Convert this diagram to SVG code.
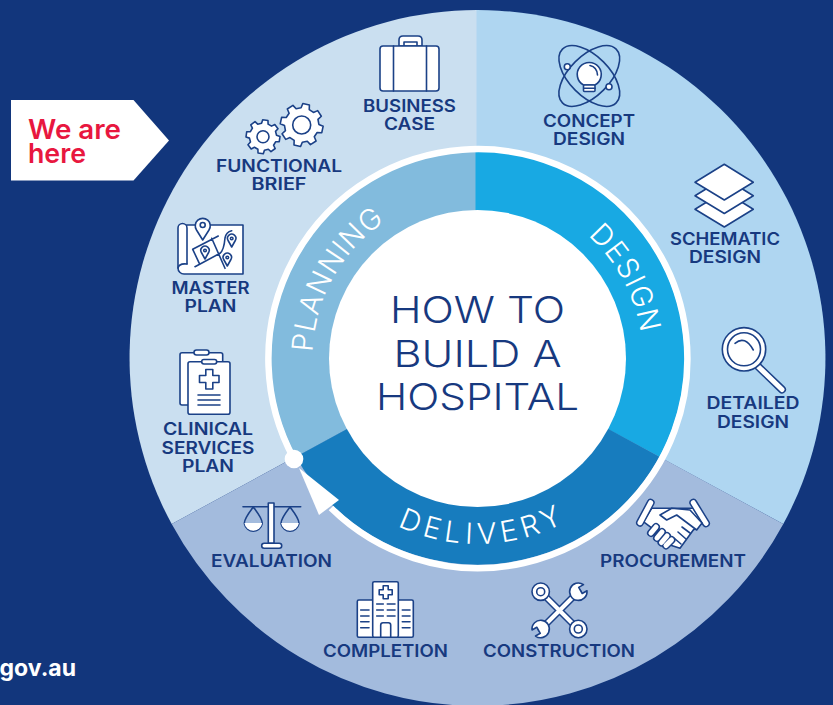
<svg xmlns="http://www.w3.org/2000/svg" width="833" height="705" viewBox="0 0 833 705">
<style>
.l{font-family:"Inter","Liberation Sans",sans-serif;font-weight:600;font-size:17px;fill:#17397f;text-anchor:middle}
.c{font-family:"Inter","Liberation Sans",sans-serif;font-weight:300;font-size:37px;fill:#17397f;text-anchor:middle}
.r{font-family:"Inter","Liberation Sans",sans-serif;font-weight:300;font-size:29px;fill:#fff}
.h{font-family:"Inter","Liberation Sans",sans-serif;font-weight:600;font-size:27px;fill:#e8173f}
.i{fill:#fff;stroke:#1b4187;stroke-width:1.6;stroke-linejoin:round;stroke-linecap:round}
.n{fill:none;stroke:#1b4187;stroke-width:1.6;stroke-linejoin:round;stroke-linecap:round}
.o{fill:none;stroke:#1b4187;stroke-linecap:round}
.w{fill:none;stroke:#fff;stroke-linecap:round}
</style>
<defs>
<path id="gear" vector-effect="non-scaling-stroke" d="M77.6 -19.4L98.8 -15.6L98.8 15.6L77.6 19.4L68.6 41.2L80.9 58.8L58.8 80.9L41.2 68.6L19.4 77.6L15.6 98.8L-15.6 98.8L-19.4 77.6L-41.2 68.6L-58.8 80.9L-80.9 58.8L-68.6 41.2L-77.6 19.4L-98.8 15.6L-98.8 -15.6L-77.6 -19.4L-68.6 -41.2L-80.9 -58.8L-58.8 -80.9L-41.2 -68.6L-19.4 -77.6L-15.6 -98.8L15.6 -98.8L19.4 -77.6L41.2 -68.6L58.8 -80.9L80.9 -58.8L68.6 -41.2Z"/>
<g id="pin"><path d="M0 6L-3.6 -0.5A4.200 4.200 0 1 1 3.600 -0.5Z"/><circle cy="-2.500" r="1.300"/></g>
<path id="open" d="M8 -3.500L2.500 -3.500L2.500 3.500L8 3.500A8.700 8.700 0 1 1 8 -3.500Z"/>
<path id="rhomb" d="M695 182.300L724.300 164.300L753.300 182.300L724.300 200Z"/>
<path id="pan" d="M0 0Q-10 13 -8.800 17A9 9 0 0 0 8.800 17Q10 13 0 0Z"/>
<path id="bowl" d="M-8.900 16H8.900A9 9 0 0 1 -8.900 16Z"/>
<path id="tp" d="M312.600 352.200A165 165 0 0 1 477.500 193"/>
<path id="td" d="M587.900 235.400A165 165 0 0 1 642.500 358"/>
<path id="tv" d="M397.400 525.900A186 186 0 0 0 638.600 451"/>
</defs>
<rect width="833" height="705" fill="#12367c"/>
<g id="wheel">
<path d="M477 358L477 10A348 348 0 0 0 171.700 524Z" fill="#cadff0"/>
<path d="M476.500 358L476.500 10A348 348 0 0 1 783.300 524Z" fill="#afd6f1"/>
<path d="M477.500 358L783.300 524A348 348 0 0 1 171.700 524Z" fill="#a3bbdd"/>
</g>
<g id="ring">
<path d="M477.500 358L477.500 151A207 207 0 0 0 296 456.800Z" fill="#82bbdd"/>
<path d="M475.500 358L475.500 151A207 207 0 0 1 659.500 456.800Z" fill="#18a9e3"/>
<path d="M477.500 358L659.500 456.800A207 207 0 0 1 296 456.800Z" fill="#177cbe"/>
<circle cx="477.500" cy="358.500" r="148.500" fill="#fff"/>
</g>
<g id="connectors">
<path d="M294 459A209.500 209.500 0 1 1 331 508" fill="none" stroke="#fff" stroke-width="6.500"/>
<circle cx="294" cy="459" r="9.300" fill="#fff"/>
<path d="M299 468L319 515L339 500Z" fill="#fff"/>
</g>
<g id="center-title">
<text class="c" x="477.500" y="323" textLength="175" lengthAdjust="spacingAndGlyphs">HOW TO</text>
<text class="c" x="477.500" y="367" textLength="168" lengthAdjust="spacingAndGlyphs">BUILD A</text>
<text class="c" x="477.500" y="409.500" textLength="203" lengthAdjust="spacingAndGlyphs">HOSPITAL</text>
</g>
<g id="phase-planning"><text class="r"><textPath href="#tp" textLength="155">PLANNING</textPath></text></g>
<g id="phase-design"><text class="r"><textPath href="#td" textLength="113">DESIGN</textPath></text></g>
<g id="phase-delivery"><text class="r"><textPath href="#tv" textLength="172">DELIVERY</textPath></text></g>
<g id="here">
<path d="M11 100H133.500L169 140.500L133.500 180.500H11Z" fill="#fff"/>
<text class="h" x="28" y="138.500" textLength="93" lengthAdjust="spacingAndGlyphs">We are</text>
<text class="h" x="28" y="163" textLength="58" lengthAdjust="spacingAndGlyphs">here</text>
</g>
<g id="url"><text x="76" y="676" text-anchor="end" font-family="Inter,'Liberation Sans',sans-serif" font-weight="700" font-size="23" fill="#fff">gov.au</text></g>
<g id="business-case">
<path class="i" d="M399 46V40Q399 36 403 36H418Q422 36 422 40V46Z"/>
<path class="n" d="M404 46V42H417V46"/>
<rect class="i" x="380" y="46" width="59" height="45" rx="3"/>
<path class="n" d="M393.500 46V91M426.500 46V91"/>
<text class="l" x="409.500" y="112" textLength="93" lengthAdjust="spacingAndGlyphs">BUSINESS</text>
<text class="l" x="409.500" y="130" textLength="51" lengthAdjust="spacingAndGlyphs">CASE</text>
</g>
<g id="functional-brief">
<use href="#gear" class="i" transform="translate(263 136.700) rotate(8) scale(.17)"/>
<circle class="i" cx="263" cy="136.700" r="6"/>
<use href="#gear" class="i" transform="translate(301.700 125) rotate(12) scale(.215)"/>
<circle class="i" cx="301.700" cy="125" r="9"/>
<text class="l" x="279" y="172" textLength="126" lengthAdjust="spacingAndGlyphs">FUNCTIONAL</text>
<text class="l" x="279" y="190" textLength="55" lengthAdjust="spacingAndGlyphs">BRIEF</text>
</g>
<g id="master-plan">
<path class="i" d="M186 225H243V274H184A6 6 0 0 1 178 268V228A4.500 4.500 0 0 1 187 228V264"/>
<path class="n" d="M187 264Q179 263 178 268"/>
<path class="n" d="M192.700 249.300L218.300 236M195 266.700L220 253.300Q224 250 225 238Q226 232 231.700 230.700M192.700 249.300L199.300 263.300M211.700 238.300L225 268.300"/>
<path class="i" d="M202.700 240L196.500 230A7.500 7.500 0 1 1 209 230Z"/>
<circle class="n" cx="202.700" cy="225" r="2.500"/>
<use href="#pin" class="i" x="205" y="253"/><use href="#pin" class="i" x="231.700" y="241"/><use href="#pin" class="i" x="227.300" y="260"/>
<text class="l" x="210.500" y="294" textLength="78" lengthAdjust="spacingAndGlyphs">MASTER</text>
<text class="l" x="210.500" y="312" textLength="52" lengthAdjust="spacingAndGlyphs">PLAN</text>
</g>
<g id="clinical-services-plan">
<rect class="i" x="180" y="352.700" width="42.700" height="52.300" rx="2"/>
<rect class="i" x="194" y="350" width="15" height="5" rx="2.500"/>
<rect class="i" x="188" y="361.700" width="42" height="52.600" rx="2"/>
<rect class="i" x="201.700" y="359.500" width="15" height="4.500" rx="2.200"/>
<path class="n" d="M205.800 369.500H212.800V375.500H219V382.500H212.800V389H205.800V382.500H199.500V375.500H205.800Z"/>
<path class="n" d="M198 395H220M198 400H220M198 405H220"/>
<text class="l" x="208" y="435" textLength="90" lengthAdjust="spacingAndGlyphs">CLINICAL</text>
<text class="l" x="208" y="453.500" textLength="93" lengthAdjust="spacingAndGlyphs">SERVICES</text>
<text class="l" x="208" y="472" textLength="52" lengthAdjust="spacingAndGlyphs">PLAN</text>
</g>
<g id="concept-design">
<ellipse class="n" cx="589.300" cy="76" rx="38" ry="20" transform="rotate(45 589.300 76)"/>
<ellipse class="n" cx="589.300" cy="76" rx="38" ry="20" transform="rotate(-45 589.300 76)"/>
<circle class="i" cx="567.300" cy="66.700" r="3"/><circle class="i" cx="609" cy="86.700" r="3"/>
<path class="i" d="M583.500 85A12 12 0 1 1 595 85Z"/>
<rect class="i" x="583.500" y="85" width="11.500" height="6.500" rx="1"/>
<path class="n" d="M584 88.200H595"/>
<path class="n" d="M590 65.500Q597 67 597.500 75"/>
<text class="l" x="589" y="127" textLength="92" lengthAdjust="spacingAndGlyphs">CONCEPT</text>
<text class="l" x="589" y="144.500" textLength="72" lengthAdjust="spacingAndGlyphs">DESIGN</text>
</g>
<g id="schematic-design">
<use href="#rhomb" class="i" y="27"/><use href="#rhomb" class="i" y="13.500"/><use href="#rhomb" class="i"/>
<text class="l" x="725" y="245" textLength="110" lengthAdjust="spacingAndGlyphs">SCHEMATIC</text>
<text class="l" x="725" y="263" textLength="72" lengthAdjust="spacingAndGlyphs">DESIGN</text>
</g>
<g id="detailed-design">
<path class="o" stroke-width="8" d="M758.300 366.700L782 389.500"/>
<path class="w" stroke-width="5" d="M758.300 366.700L782 389.500"/>
<circle class="i" cx="744" cy="349.300" r="21.700"/>
<circle class="i" cx="744" cy="349.300" r="16.500"/>
<path class="n" d="M735 343.300Q745 335 753.300 350"/>
<text class="l" x="753" y="409" textLength="93" lengthAdjust="spacingAndGlyphs">DETAILED</text>
<text class="l" x="753" y="428" textLength="72" lengthAdjust="spacingAndGlyphs">DESIGN</text>
</g>
<g id="procurement">
<path class="i" d="M651.700 508.300H693.300L702.700 522.700L693.300 530L680 548.300L670 545L650 526.700L643.300 521.700Z"/>
<path class="o" stroke-width="8" d="M650.700 502.700L640 522.700M693.300 502.700L706 523.300"/>
<path class="w" stroke-width="5" d="M650.700 502.700L640 522.700M693.300 502.700L706 523.300"/>
<path class="i" d="M671.700 508.300L660 515L666.700 520L676.700 515L696.700 530L702 523L690 510Z"/>
<path class="n" d="M682 527L690 533M678 532L686 539M674 538L681 544"/>
<path class="o" stroke-width="8" d="M656 527L651 533M662 532L657 538M667 536L661.500 542.500M671.500 540L666 545.500"/>
<path class="w" stroke-width="5" d="M656 527L651 533M662 532L657 538M667 536L661.500 542.500M671.500 540L666 545.500"/>
<text class="l" x="673" y="567" textLength="146" lengthAdjust="spacingAndGlyphs">PROCUREMENT</text>
</g>
<g id="construction">
<path class="o" stroke-width="7" d="M541 592L578 629M578 592L541 629"/>
<path class="w" stroke-width="4" d="M541 592L578 629M578 592L541 629"/>
<circle class="i" cx="540.700" cy="591.700" r="8.700"/><circle class="n" cx="540.700" cy="591.700" r="4"/>
<circle class="i" cx="578.300" cy="629" r="8.700"/><circle class="n" cx="578.300" cy="629" r="4"/>
<use href="#open" class="i" transform="translate(578.300 591.700) rotate(-30)"/>
<use href="#open" class="i" transform="translate(540.700 629) rotate(150)"/>
<text class="l" x="559" y="657" textLength="152" lengthAdjust="spacingAndGlyphs">CONSTRUCTION</text>
</g>
<g id="completion">
<rect class="i" x="357.300" y="600" width="56" height="37.300" rx="1.500"/>
<rect class="i" x="372.700" y="581.700" width="25.600" height="55.600" rx="1.500"/>
<path class="n" d="M383.200 585.800H388.200V589.800H392.200V594.800H388.200V598.800H383.200V594.800H379.200V589.800H383.200Z"/>
<path class="n" d="M376.700 604H383.300M387.300 604H395M376.700 610H383.300M387.300 610H395M376.700 616H383.300M387.300 616H395M360.700 610H369M360.700 616H369M360.700 621.700H369M360.700 627.700H369M402.300 610H410M402.300 616H410M402.300 621.700H410M402.300 627.700H410"/>
<path class="i" d="M380.700 637.300V625Q380.700 622.700 383 622.700H388.400Q390.700 622.700 390.700 625V637.300Z"/>
<text class="l" x="385.500" y="657" textLength="125" lengthAdjust="spacingAndGlyphs">COMPLETION</text>
</g>
<g id="evaluation">
<path class="n" d="M243 506.700H300.700"/>
<rect class="i" x="268.300" y="503" width="5.700" height="40.300"/>
<rect class="i" x="261.700" y="543.300" width="20" height="5" rx="2.500"/>
<use href="#pan" class="n" x="253.300" y="507"/><use href="#bowl" fill="#fff" x="253.300" y="507"/>
<use href="#pan" class="n" x="290" y="507"/><use href="#bowl" fill="#fff" x="290" y="507"/>
<text class="l" x="271.500" y="567" textLength="121" lengthAdjust="spacingAndGlyphs">EVALUATION</text>
</g>
</svg>
